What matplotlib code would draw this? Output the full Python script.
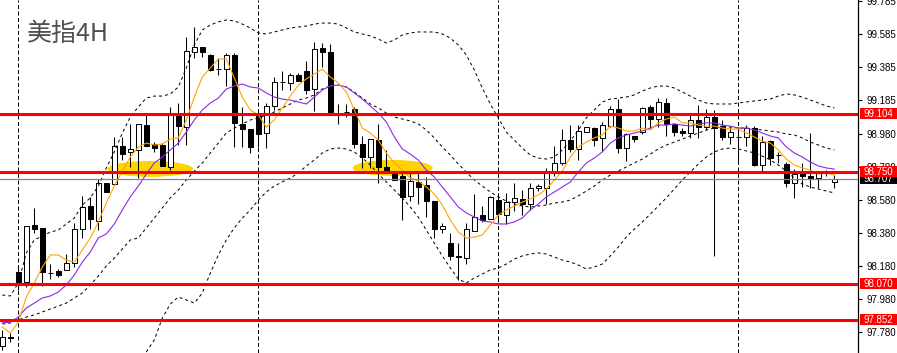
import matplotlib
matplotlib.use('Agg')
import matplotlib.pyplot as plt
import matplotlib.transforms as mtransforms
from matplotlib.patches import Ellipse, Rectangle

# ---------------- data ----------------
title = "美指4H"

opens = [97.694, 97.745, 98.143, 98.082, 98.428, 98.410, 98.136, 98.149, 98.155, 98.197,
         98.403, 98.543, 98.452, 98.683, 98.677, 98.907, 98.871, 98.883, 99.034, 98.919,
         98.913, 98.780, 99.107, 99.022, 99.477, 99.508, 99.459, 99.374, 99.374, 99.459,
         99.041, 99.010, 99.107, 98.986, 99.150, 99.295, 99.289, 99.338, 99.362, 99.253,
         99.502, 99.477, 99.101, 99.113, 99.132, 98.919, 98.840, 98.943, 98.780, 98.749,
         98.725, 98.604, 98.689, 98.670, 98.573, 98.403, 98.318, 98.240, 98.227, 98.391,
         98.488, 98.464, 98.579, 98.488, 98.567, 98.586, 98.555, 98.652, 98.652, 98.755,
         98.804, 98.943, 98.889, 98.992, 99.016, 98.956, 99.028, 99.132, 98.895, 98.968,
         98.992, 99.144, 99.071, 99.168, 99.041, 98.998, 98.986, 99.065, 99.022, 99.083,
         99.028, 98.962, 98.962, 98.962, 99.016, 98.792, 98.937, 98.852, 98.798, 98.683,
         98.743, 98.725, 98.713, 98.743, 98.689]

highs = [97.791, 97.772, 98.173, 98.422, 98.531, 98.410, 98.191, 98.161, 98.252, 98.440,
         98.604, 98.598, 98.707, 98.683, 98.962, 98.962, 99.041, 99.041, 99.107, 98.931,
         98.925, 99.144, 99.168, 99.568, 99.629, 99.508, 99.465, 99.441, 99.471, 99.471,
         99.144, 99.010, 99.113, 99.168, 99.326, 99.362, 99.350, 99.350, 99.423, 99.538,
         99.532, 99.526, 99.162, 99.162, 99.144, 98.968, 98.949, 99.041, 98.883, 98.749,
         98.749, 98.749, 98.749, 98.719, 98.573, 98.440, 98.379, 98.318, 98.440, 98.616,
         98.543, 98.604, 98.622, 98.622, 98.683, 98.640, 98.683, 98.677, 98.774, 98.907,
         99.010, 99.034, 99.034, 99.022, 99.022, 99.053, 99.150, 99.192, 98.986, 98.968,
         99.144, 99.156, 99.198, 99.198, 99.047, 99.016, 99.095, 99.156, 99.132, 99.126,
         99.065, 99.022, 99.022, 99.034, 99.028, 98.968, 98.943, 98.871, 98.810, 98.767,
         98.804, 98.986, 98.743, 98.761, 98.731]

lows = [97.669, 97.718, 98.033, 98.052, 98.379, 98.058, 98.100, 98.112, 98.155, 98.173,
        98.349, 98.403, 98.397, 98.628, 98.670, 98.822, 98.780, 98.713, 98.907, 98.871,
        98.786, 98.761, 98.913, 98.913, 99.441, 99.447, 99.362, 99.338, 99.271, 98.901,
        98.901, 98.865, 98.901, 98.895, 99.126, 99.247, 99.247, 99.301, 99.223, 99.119,
        99.386, 99.113, 99.041, 99.083, 98.895, 98.774, 98.774, 98.683, 98.743, 98.701,
        98.458, 98.573, 98.555, 98.476, 98.349, 98.379, 98.215, 98.094, 98.191, 98.391,
        98.446, 98.464, 98.458, 98.434, 98.513, 98.488, 98.519, 98.634, 98.555, 98.725,
        98.792, 98.871, 98.822, 98.992, 98.907, 98.877, 99.022, 98.865, 98.816, 98.931,
        98.980, 99.016, 99.022, 98.968, 98.968, 98.968, 98.956, 98.956, 99.004, 98.240,
        98.943, 98.919, 98.804, 98.907, 98.786, 98.755, 98.792, 98.804, 98.658, 98.592,
        98.658, 98.652, 98.652, 98.725, 98.652]

closes = [97.748, 97.748, 98.082, 98.422, 98.403, 98.143, 98.138, 98.124, 98.197, 98.403,
          98.537, 98.464, 98.683, 98.628, 98.907, 98.858, 98.889, 99.041, 98.907, 98.895,
          98.786, 99.107, 99.028, 99.484, 99.508, 99.477, 99.368, 99.372, 99.459, 99.047,
          99.010, 98.901, 98.980, 99.150, 99.295, 99.297, 99.338, 99.301, 99.247, 99.496,
          99.477, 99.113, 99.099, 99.111, 98.919, 98.840, 98.949, 98.780, 98.755, 98.701,
          98.598, 98.695, 98.658, 98.573, 98.403, 98.422, 98.240, 98.233, 98.403, 98.476,
          98.458, 98.598, 98.494, 98.567, 98.592, 98.555, 98.652, 98.664, 98.755, 98.804,
          98.943, 98.889, 98.998, 99.022, 98.943, 99.034, 99.132, 98.895, 98.980, 98.949,
          99.138, 99.071, 99.174, 99.041, 98.992, 98.986, 99.065, 99.022, 99.083, 99.016,
          98.962, 98.992, 98.960, 99.016, 98.792, 98.931, 98.834, 98.850, 98.683, 98.737,
          98.725, 98.713, 98.743, 98.741, 98.707]

ma_fast = [97.809, 97.772, 97.839, 97.991, 98.076, 98.173, 98.246, 98.246, 98.215, 98.203,
           98.276, 98.349, 98.446, 98.561, 98.664, 98.755, 98.840, 98.901, 98.925, 98.913,
           98.919, 98.949, 98.956, 99.065, 99.204, 99.326, 99.380, 99.435, 99.435, 99.320,
           99.204, 99.126, 99.095, 99.022, 99.065, 99.138, 99.210, 99.277, 99.314, 99.344,
           99.374, 99.326, 99.289, 99.235, 99.126, 99.016, 98.986, 98.943, 98.865, 98.804,
           98.761, 98.713, 98.695, 98.658, 98.616, 98.549, 98.458, 98.385, 98.349, 98.355,
           98.367, 98.428, 98.488, 98.519, 98.543, 98.567, 98.586, 98.610, 98.646, 98.701,
           98.755, 98.840, 98.901, 98.931, 98.956, 98.974, 99.028, 99.016, 98.998, 98.998,
           99.016, 99.004, 99.047, 99.071, 99.083, 99.047, 99.047, 99.034, 99.028, 99.028,
           99.016, 99.010, 99.010, 98.986, 98.962, 98.937, 98.925, 98.883, 98.828, 98.792,
           98.774, 98.761, 98.737, 98.743, 98.731]

ma_slow = [97.833, 97.839, 97.869, 97.924, 97.954, 97.985, 97.997, 98.021, 98.064, 98.124,
           98.203, 98.264, 98.349, 98.373, 98.434, 98.519, 98.598, 98.664, 98.737, 98.804,
           98.840, 98.883, 98.925, 98.992, 99.065, 99.126, 99.168, 99.198, 99.253, 99.271,
           99.283, 99.265, 99.259, 99.229, 99.204, 99.192, 99.186, 99.174, 99.162, 99.204,
           99.247, 99.271, 99.277, 99.265, 99.229, 99.192, 99.150, 99.107, 99.053, 98.962,
           98.889, 98.858, 98.822, 98.761, 98.719, 98.658, 98.598, 98.537, 98.501, 98.476,
           98.452, 98.446, 98.434, 98.434, 98.446, 98.470, 98.519, 98.555, 98.598, 98.628,
           98.658, 98.689, 98.749, 98.804, 98.834, 98.871, 98.925, 98.956, 98.974, 98.986,
           98.998, 99.016, 99.034, 99.034, 99.041, 99.034, 99.028, 99.041, 99.047, 99.047,
           99.034, 99.028, 99.016, 99.016, 99.004, 98.986, 98.968, 98.956, 98.901, 98.865,
           98.840, 98.810, 98.786, 98.774, 98.767]

bb_upper = [98.003, 97.997, 98.076, 98.258, 98.337, 98.361, 98.385, 98.397, 98.434, 98.470,
            98.549, 98.592, 98.664, 98.774, 98.871, 98.986, 99.083, 99.144, 99.198, 99.210,
            99.210, 99.223, 99.265, 99.380, 99.520, 99.611, 99.641, 99.660, 99.672, 99.666,
            99.647, 99.623, 99.593, 99.587, 99.599, 99.611, 99.623, 99.629, 99.635, 99.647,
            99.653, 99.653, 99.647, 99.623, 99.599, 99.587, 99.575, 99.556, 99.532, 99.550,
            99.581, 99.593, 99.599, 99.599, 99.599, 99.587, 99.562, 99.520, 99.459, 99.368,
            99.259, 99.162, 99.077, 98.992, 98.943, 98.895, 98.852, 98.834, 98.828, 98.840,
            98.883, 98.937, 99.004, 99.077, 99.126, 99.174, 99.192, 99.198, 99.204, 99.217,
            99.241, 99.259, 99.271, 99.271, 99.259, 99.235, 99.210, 99.186, 99.168, 99.162,
            99.162, 99.162, 99.168, 99.174, 99.180, 99.186, 99.192, 99.210, 99.223, 99.217,
            99.204, 99.186, 99.168, 99.150, 99.138]

bb_mid = [97.827, 97.833, 97.851, 97.869, 97.882, 97.900, 97.918, 97.936, 97.954, 97.985,
          98.015, 98.064, 98.118, 98.179, 98.227, 98.282, 98.337, 98.349, 98.410, 98.470,
          98.531, 98.592, 98.640, 98.701, 98.755, 98.804, 98.865, 98.925, 98.986, 99.016,
          99.041, 99.065, 99.077, 99.095, 99.113, 99.138, 99.162, 99.186, 99.198, 99.217,
          99.253, 99.271, 99.277, 99.265, 99.235, 99.198, 99.162, 99.138, 99.107, 99.083,
          99.071, 99.059, 99.041, 99.004, 98.956, 98.901, 98.852, 98.798, 98.749, 98.701,
          98.664, 98.628, 98.598, 98.573, 98.555, 98.543, 98.537, 98.543, 98.549, 98.561,
          98.567, 98.579, 98.604, 98.634, 98.664, 98.701, 98.731, 98.755, 98.780, 98.804,
          98.828, 98.858, 98.889, 98.913, 98.931, 98.949, 98.968, 98.986, 99.004, 99.016,
          99.022, 99.022, 99.016, 99.016, 99.010, 99.004, 98.998, 98.992, 98.980, 98.974,
          98.956, 98.931, 98.913, 98.895, 98.883]

bb_lower_first_bar = 18
bb_lower = [97.657, 97.730, 97.863, 97.948, 97.991, 97.973, 97.954, 98.015, 98.136, 98.246,
            98.337, 98.410, 98.470, 98.519, 98.579, 98.628, 98.664, 98.689, 98.713, 98.743,
            98.786, 98.822, 98.865, 98.889, 98.895, 98.889, 98.871, 98.834, 98.792, 98.737,
            98.689, 98.640, 98.592, 98.537, 98.476, 98.397, 98.318, 98.240, 98.167, 98.100,
            98.076, 98.106, 98.130, 98.155, 98.167, 98.191, 98.221, 98.240, 98.252, 98.258,
            98.252, 98.233, 98.215, 98.203, 98.185, 98.161, 98.173, 98.191, 98.240, 98.294,
            98.355, 98.403, 98.446, 98.494, 98.543, 98.592, 98.646, 98.701, 98.749, 98.798,
            98.840, 98.871, 98.889, 98.895, 98.889, 98.877, 98.865, 98.846, 98.822, 98.792,
            98.755, 98.713, 98.677, 98.658, 98.646, 98.634, 98.622]

level_prices = [99.104, 98.750, 98.070, 97.852]
bid_price = 98.707
tick_values = [99.785, 99.585, 99.385, 99.185, 98.980, 98.780,
               98.580, 98.380, 98.180, 97.980, 97.780]
separator_bars = [2, 32, 62, 92]

# ---------------- figure ----------------
W, H = 897, 353
fig = plt.figure(figsize=(W / 100, H / 100), dpi=100)
fig.patch.set_facecolor('white')
ax = fig.add_axes([0, 0, 858 / W, 1])
ax.set_facecolor('white')
ax.set_xlim(-0.2875, 106.96)
ax.set_ylim(97.651, 99.793)
px_per_unit = H / (99.793 - 97.651)

n = len(closes)
xs = list(range(n))

# yellow highlight ellipses (behind the candles)
ax.add_patch(Ellipse((18.5, 98.768), 10.7, 0.097, facecolor='#FFD400',
                     edgecolor='none', zorder=1))
ax.add_patch(Ellipse((48.8, 98.774), 10.0, 0.097, facecolor='#FFD400',
                     edgecolor='none', zorder=1))

# period separators
for b in separator_bars:
    ax.axvline(b, color='black', lw=0.72, linestyle=(0, (4, 2.5)), zorder=1.5)

# candles
ax.vlines(xs, lows, highs, color='black', lw=0.75, zorder=2)
bottoms = [min(o, c) for o, c in zip(opens, closes)]
heights = [max(abs(c - o), 0.0004) for o, c in zip(opens, closes)]
faces = ['white' if c > o else 'black' for o, c in zip(opens, closes)]
ax.bar(xs, heights, bottom=bottoms, width=0.6, color=faces,
       edgecolor='black', linewidth=0.72, zorder=2.1)

# Bollinger bands (dashed)
dash = (0, (3, 3))
ax.plot(xs, bb_upper, color='black', lw=0.72, linestyle=dash, zorder=3)
ax.plot(xs, bb_mid, color='black', lw=0.72, linestyle=dash, zorder=3)
ax.plot(list(range(bb_lower_first_bar, bb_lower_first_bar + len(bb_lower))), bb_lower,
        color='black', lw=0.72, linestyle=dash, zorder=3)

# moving averages
ax.plot(xs, ma_slow, color='#8A2BE2', lw=0.8, zorder=3.2)
ax.plot(xs, ma_fast, color='#FFA500', lw=0.8, zorder=3.3)

# bid line
ax.axhline(bid_price, color='#778899', lw=0.9, zorder=3.5)

# red horizontal levels
for p in level_prices:
    ax.axhline(p, color='#FF0000', lw=2.2, zorder=4)

# axes styling
for s in ['left', 'top', 'bottom']:
    ax.spines[s].set_visible(False)
ax.spines['right'].set_color('black')
ax.spines['right'].set_linewidth(0.9)
ax.set_xticks([])
ax.yaxis.tick_right()
ax.set_yticks(tick_values)
ax.set_yticklabels([f"{v:.3f}" for v in tick_values])
ax.tick_params(axis='y', direction='out', length=3, width=0.8, pad=3,
               labelsize=7, colors='black')
for lab in ax.get_yticklabels():
    lab.set_family('Liberation Sans')

# price labels (boxes) on the right axis
trans = mtransforms.blended_transform_factory(fig.transFigure, ax.transData)
box_h = 11 / px_per_unit
box_x0 = 860 / W
box_w = 37 / W


def price_box(price, face, z):
    ax.add_patch(Rectangle((box_x0, price - box_h / 2), box_w, box_h, transform=trans,
                           facecolor=face, edgecolor='none', clip_on=False, zorder=z))
    ax.text(box_x0 + 3.5 / W, price, f"{price:.3f}", transform=trans, color='white',
            fontsize=7, family='Liberation Sans', va='center', ha='left',
            clip_on=False, zorder=z + 0.1)


price_box(bid_price, 'black', 9)
for p in level_prices:
    price_box(p, '#FF0000', 10)

# title
fig.text(27 / W, 1 - 34 / H, title, fontsize=18, color='#505050',
         family=['Noto Sans CJK SC', 'DejaVu Sans'], va='center', ha='left')

fig.savefig('out.png', dpi=100, facecolor='white')
